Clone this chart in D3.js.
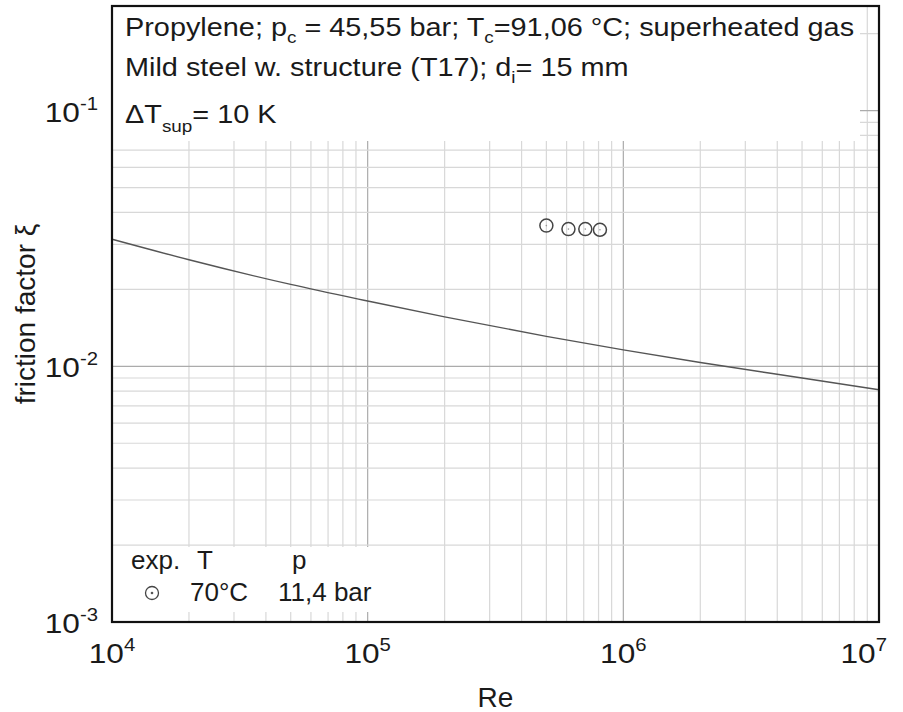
<!doctype html>
<html>
<head>
<meta charset="utf-8">
<style>
  body { margin: 0; background: #fff; }
  text { font-family: "Liberation Sans", Arial, sans-serif; fill: #1a1a1a; }
</style>
<script src="https://d3js.org/d3.v7.min.js"></script>
</head>
<body>
<svg width="903" height="712"></svg>
<script>
// curve
var curveRe = [1e4, 2e4, 5e4, 1e5, 2e5, 5e5, 1e6, 2e6, 5e6, 1e7];
var curveXi = [0.0314, 0.0261, 0.0209, 0.0180, 0.0156, 0.0131, 0.0116, 0.01035, 0.0090, 0.0081];

// measured points (70 °C, 11,4 bar)
var expRe = [5.0e5, 6.1e5, 7.1e5, 8.1e5];
var expXi = [0.0355, 0.0344, 0.0344, 0.0342];

var reTicks = [1e4, 1e5, 1e6, 1e7];
var reExp = ["4", "5", "6", "7"];
var xiTicks = [1e-3, 1e-2, 1e-1];
var xiExp = ["-3", "-2", "-1"];

var svg = d3.select("svg");
var pL = 112, pR = 879, pT = 6, pB = 622;

var x = d3.scaleLog().domain([1e4, 1e7]).range([pL, pR]);
var y = d3.scaleLog().domain([1e-3, 0.2565]).range([pB, pT]);

svg.append("rect").attr("width", 903).attr("height", 712).attr("fill", "#fff");

// grid
var g = svg.append("g");
g.selectAll(".vx").data(x.ticks()).enter().append("line")
    .attr("x1", d => x(d)).attr("x2", d => x(d))
    .attr("y1", pT).attr("y2", pB)
    .attr("stroke", d => reTicks.indexOf(d) >= 0 ? "#ababab" : "#d8d8d8")
    .attr("stroke-width", 1.2);
g.selectAll(".hy").data(y.ticks()).enter().append("line")
    .attr("x1", pL).attr("x2", pR)
    .attr("y1", d => y(d)).attr("y2", d => y(d))
    .attr("stroke", d => xiTicks.indexOf(d) >= 0 ? "#ababab" : "#d8d8d8")
    .attr("stroke-width", 1.2);

// curve
var line = d3.line().curve(d3.curveMonotoneX)
    .x(function (d, i) { return x(curveRe[i]); })
    .y(function (d, i) { return y(curveXi[i]); });
svg.append("path").datum(curveRe)
    .attr("d", line)
    .attr("fill", "none")
    .attr("stroke", "#555")
    .attr("stroke-width", 1.4);

// points
var pts = svg.append("g");
expRe.forEach(function (r, i) {
    pts.append("circle").attr("cx", x(r)).attr("cy", y(expXi[i])).attr("r", 6.5)
        .attr("fill", "none").attr("stroke", "#444").attr("stroke-width", 1.5);
    pts.append("circle").attr("cx", x(r)).attr("cy", y(expXi[i])).attr("r", 0.8)
        .attr("fill", "#999");
});

// text box at top
svg.append("rect").attr("x", pL).attr("y", pT).attr("width", 860 - pL).attr("height", 135)
    .attr("fill", "#fff");

// text is a little wider than the plain font in the picture
function wideText(xx, yy, size, sx) {
    return svg.append("g").attr("transform", "translate(" + xx + "," + yy + ") scale(" + sx + ",1)")
        .append("text").attr("font-size", size);
}

function addLine(yy, parts) {
    var t = wideText(125, yy, 26, 1.11);
    parts.forEach(function (p) {
        if (p.sub) {
            t.append("tspan").attr("font-size", 17).attr("dy", p.dy).text(p.sub);
        } else {
            t.append("tspan").attr("dy", p.dy || 0).text(p.t);
        }
    });
}
addLine(36, [{ t: "Propylene; p" }, { sub: "c", dy: 7 }, { t: " = 45,55 bar; T", dy: -7 }, { sub: "c", dy: 7 }, { t: "=91,06 °C; superheated gas", dy: -7 }]);
addLine(76, [{ t: "Mild steel w. structure (T17); d" }, { sub: "i", dy: 7 }, { t: "= 15 mm", dy: -7 }]);
addLine(123, [{ t: "ΔT" }, { sub: "sup", dy: 9 }, { t: "= 10 K", dy: -9 }]);

// legend box
svg.append("rect").attr("x", pL).attr("y", 547).attr("width", 377 - pL).attr("height", 65)
    .attr("fill", "#fff");
svg.append("text").attr("x", 131).attr("y", 569).attr("font-size", 26).text("exp.");
svg.append("text").attr("x", 197).attr("y", 569).attr("font-size", 26).text("T");
svg.append("text").attr("x", 292).attr("y", 569).attr("font-size", 26).text("p");
svg.append("circle").attr("cx", 152).attr("cy", 593).attr("r", 6.5)
    .attr("fill", "none").attr("stroke", "#444").attr("stroke-width", 1.3);
svg.append("circle").attr("cx", 152).attr("cy", 593).attr("r", 1.3).attr("fill", "#555");
svg.append("text").attr("x", 190).attr("y", 601).attr("font-size", 26).text("70°C");
svg.append("text").attr("x", 278).attr("y", 601).attr("font-size", 26).text("11,4 bar");

// frame
svg.append("rect").attr("x", pL).attr("y", pT).attr("width", pR - pL).attr("height", pB - pT)
    .attr("fill", "none").attr("stroke", "#111").attr("stroke-width", 2.2);

// tick labels (last one pulled inside the page)
reTicks.forEach(function (v, i) {
    var last = i === reTicks.length - 1;
    var t = wideText(last ? pR + 8 : x(v), 663, 28, 1.13)
        .attr("text-anchor", last ? "end" : "middle");
    t.append("tspan").text("10");
    t.append("tspan").attr("font-size", 18).attr("dy", -12).text(reExp[i]);
});
xiTicks.forEach(function (v, i) {
    var t = wideText(98, y(v) + 11, 28, 1.13).attr("text-anchor", "end");
    t.append("tspan").text("10");
    t.append("tspan").attr("font-size", 18).attr("dy", -12).text(xiExp[i]);
});

// axis titles
svg.append("text").attr("x", (pL + pR) / 2).attr("y", 707).attr("font-size", 28)
    .attr("text-anchor", "middle").text("Re");
svg.append("text").attr("transform", "translate(35," + (pT + pB) / 2 + ") rotate(-90)")
    .attr("font-size", 28).attr("text-anchor", "middle").text("friction factor ξ");
</script>
</body>
</html>
